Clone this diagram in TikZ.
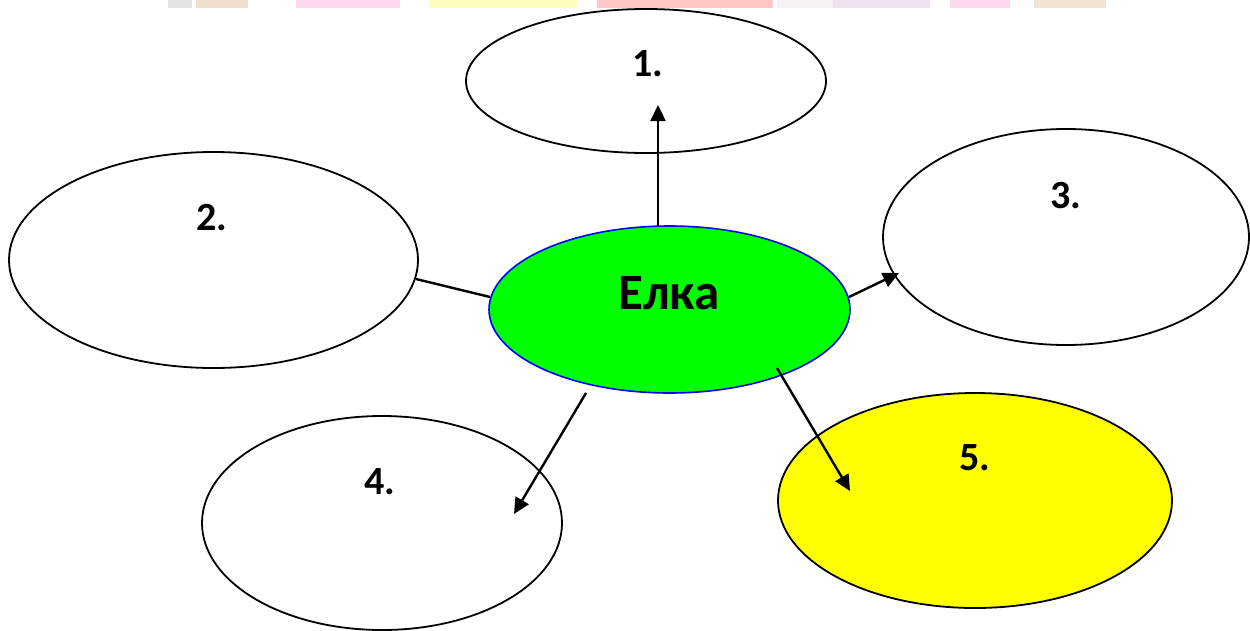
\documentclass[tikz,border=0pt]{standalone}
\usepackage{fontspec}
\setmainfont{Carlito}
\usetikzlibrary{shapes.geometric,arrows.meta}
\definecolor{elgreen}{RGB}{0,255,0}
\definecolor{elyellow}{RGB}{255,255,0}
\definecolor{elblue}{RGB}{0,0,255}
\tikzset{
  bubble/.style={draw=black,line width=1.8pt,ellipse,inner sep=0pt},
  lbl/.style={font=\fontsize{40}{44}\selectfont\bfseries,inner sep=0pt},
  conn/.style={line width=2.4pt,draw=black},
  arr/.style={conn,-{Triangle[length=16pt,width=15pt]}},
}
\begin{document}
\begin{tikzpicture}[x=1pt,y=-1pt]
\useasboundingbox (0,0) rectangle (1250,630);
% faded top strip
\fill[black!10] (168,0) rectangle (192,8);
\fill[brown!25] (196,0) rectangle (248,8);
\fill[magenta!15] (296,0) rectangle (400,8);
\fill[yellow!25] (429,0) rectangle (577,8);
\fill[red!22] (597,0) rectangle (773,8);
\fill[violet!6] (777,0) rectangle (833,8);
\fill[violet!12] (833,0) rectangle (930,8);
\fill[magenta!15] (950,0) rectangle (1010,8);
\fill[brown!22] (1034,0) rectangle (1106,8);
% bubbles
\node[bubble,fill=white,minimum width=360pt,minimum height=144pt] (e1) at (646,81) {};
\node[bubble,fill=white,minimum width=409pt,minimum height=216pt] (e2) at (213.5,260) {};
\node[bubble,fill=white,minimum width=366pt,minimum height=216pt] (e3) at (1066,237) {};
\node[bubble,fill=white,minimum width=360pt,minimum height=214pt] (e4) at (382,523) {};
\node[bubble,fill=elyellow,minimum width=394pt,minimum height=215pt] (e5) at (975,500.5) {};
\node[ellipse,draw=elblue,line width=1.6pt,fill=elgreen,minimum width=361pt,minimum height=167pt,inner sep=0pt] (c) at (669.5,309.5) {};
% labels
\node[lbl] (t1) at (648,64) {1.};
\node[lbl] (t2) at (212,218) {2.};
\node[lbl] (t3) at (1066,196) {3.};
\node[lbl] (t4) at (380,482) {4.};
\node[lbl] (t5) at (975,458) {5.};
\node[font=\fontsize{51}{55}\selectfont\bfseries,inner sep=0pt] (tc) at (669,293) {Елка};
% connectors
\coordinate (a1s) at (658,226); \coordinate (a1e) at (658,105);
\coordinate (l2s) at (490,297); \coordinate (l2e) at (416,279);
\coordinate (a3s) at (849,297); \coordinate (a3e) at (899,273);
\coordinate (a4s) at (586,393); \coordinate (a4e) at (514,514);
\coordinate (a5s) at (777,368); \coordinate (a5e) at (850,491);
\draw[arr] (a1s) -- (a1e);
\draw[conn] (l2s) -- (l2e);
\draw[arr] (a3s) -- (a3e);
\draw[arr] (a4s) -- (a4e);
\draw[arr] (a5s) -- (a5e);
\end{tikzpicture}
\end{document}
